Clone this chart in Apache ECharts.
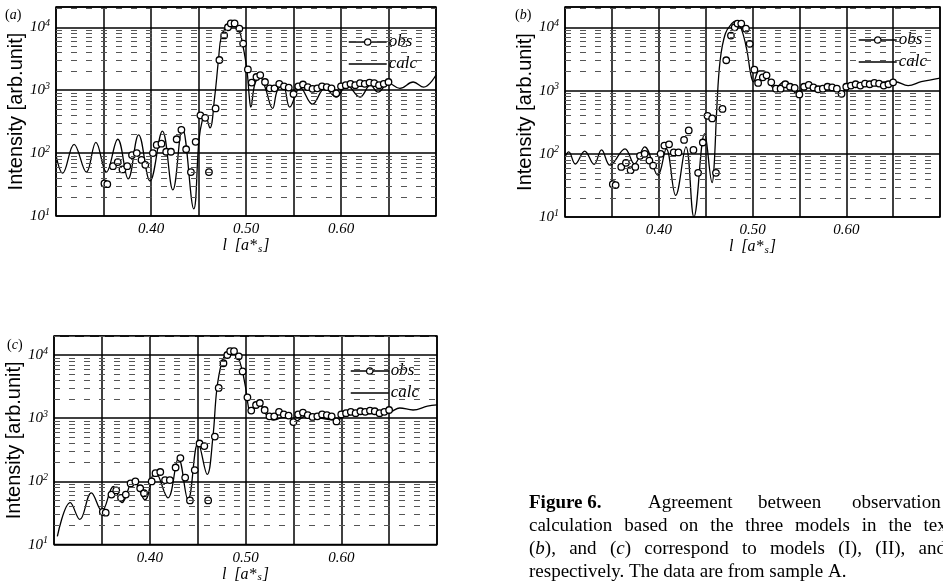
<!DOCTYPE html>
<html>
<head>
<meta charset="utf-8">
<script src="https://cdn.jsdelivr.net/npm/echarts@6/dist/echarts.min.js"></script>
<style>
html,body{margin:0;padding:0;background:#fff;}
#chart{width:943px;height:584px;}
</style>
</head>
<body>
<div id="chart"></div>
<script>
// ---------------- data ----------------
// observed intensities (same data set in all three panels)
const obsL = [0.351,0.354,0.360,0.365,0.370,0.375,0.380,0.385,0.390,0.394,0.402,0.406,0.411,0.416,0.421,0.427,0.432,0.437,0.442,0.447,0.452,0.457,0.461,0.468,0.472,0.477,0.481,0.484,0.488,0.493,0.497,0.502,0.506,0.511,0.515,0.520,0.525,0.530,0.535,0.540,0.545,0.550,0.555,0.560,0.565,0.570,0.575,0.580,0.585,0.590,0.595,0.600,0.605,0.610,0.615,0.620,0.625,0.630,0.635,0.640,0.645,0.650];
const obsI = [33,32,62,72,55,62,93,100,78,65,100,135,141,105,105,166,234,115,50,151,398,363,50,513,3020,7410,10000,11500,11500,9550,5500,2140,1320,1620,1740,1350,1070,1070,1260,1150,1100,870,1150,1230,1120,1050,1070,1150,1120,1070,890,1150,1200,1260,1200,1290,1260,1320,1290,1200,1260,1350];

// calculated curves, model (I), (II), (III)
const calcAL = [0.300,0.307,0.319,0.332,0.342,0.353,0.365,0.376,0.387,0.399,0.412,0.423,0.433,0.445,0.4505,0.454,0.457,0.462,0.467,0.471,0.474,0.480,0.485,0.490,0.494,0.497,0.501,0.5035,0.505,0.5095,0.515,0.520,0.528,0.533,0.539,0.546,0.557,0.570,0.583,0.595,0.606,0.620,0.631,0.639,0.650,0.662,0.676,0.687,0.700];
const calcAI = [93,48,138,50,148,50,166,39,195,36,224,26,251,13,162,331,398,251,776,3020,7080,10700,12000,10700,7940,4900,2090,776,537,1290,1620,1120,513,1000,1200,537,1100,600,1070,776,1200,776,1200,933,1290,1070,1350,1120,1740];

const calcBL = [0.300,0.304,0.311,0.321,0.331,0.339,0.348,0.364,0.374,0.385,0.399,0.408,0.418,0.429,0.4375,0.449,0.457,0.459,0.462,0.4655,0.471,0.478,0.4825,0.488,0.494,0.498,0.501,0.507,0.512,0.5235,0.534,0.548,0.557,0.571,0.581,0.595,0.606,0.620,0.631,0.652,0.666,0.680,0.700];
const calcBI = [89,107,69,110,68,115,66,120,69,129,46,120,22,129,10,209,35,62,550,3020,7940,11500,12600,9550,4370,1860,1380,2040,2040,1070,1380,891,1200,1000,1200,955,1290,1200,1320,1380,1200,1380,1580];

const calcCL = [0.3035,0.317,0.327,0.339,0.350,0.362,0.371,0.383,0.395,0.4055,0.419,0.430,0.440,0.4505,0.460,0.466,0.470,0.475,0.480,0.485,0.491,0.496,0.5005,0.503,0.505,0.510,0.515,0.522,0.529,0.543,0.552,0.564,0.578,0.595,0.606,0.627,0.651,0.661,0.675,0.690,0.700];
const calcCI = [13.5,46,25,66,34,83,46,107,51,145,55,234,51,407,129,513,2820,7410,10700,11500,10000,6170,2820,1510,1200,1450,1620,1120,933,1070,891,1100,1000,933,1120,1175,1260,1450,1350,1550,1620];

// axes
const xTickLabels = ['0.40','0.50','0.60'];
const minorY = [20,30,40,50,60,70,80,90,200,300,400,500,600,700,800,900,2000,3000,4000,5000,6000,7000,8000,9000,20000];
const panelNames = ['(a)','(b)','(c)'];

// ---------------- chart ----------------
const SERIF = '"Liberation Serif","Times New Roman",serif';
const SANS = '"Liberation Sans",Arial,sans-serif';
const pairs = (L, I) => L.map((l, i) => [l, I[i]]);
const calcs = [pairs(calcAL, calcAI), pairs(calcBL, calcBI), pairs(calcCL, calcCI)];
const obs = pairs(obsL, obsI);

const grids = [
  {left: 56, top: 7, width: 380, height: 209},
  {left: 565, top: 7, width: 382, height: 210},
  {left: 54, top: 336, width: 383, height: 209}
];
const yMax = [21000, 21000, 20000];

const xAxes = grids.map((g, i) => ({
  type: 'value', gridIndex: i, min: 0.30, max: 0.70, interval: 0.05,
  axisLine: {show: false}, axisTick: {show: false},
  splitLine: {show: true, lineStyle: {color: '#000', width: 1.5}},
  axisLabel: {
    margin: 6, color: '#000', fontFamily: SERIF, fontStyle: 'italic', fontSize: 15,
    formatter: v => { const s = v.toFixed(2); return xTickLabels.includes(s) ? s : ''; }
  },
  name: '{i|l  [a*}{s|s}{i|]}', nameLocation: 'middle', nameGap: 21,
  nameTextStyle: {
    rich: {
      i: {fontFamily: SERIF, fontStyle: 'italic', fontSize: 16, color: '#000'},
      s: {fontFamily: SERIF, fontStyle: 'italic', fontSize: 11, color: '#000', verticalAlign: 'bottom', padding: [6, 1, 0, 1]}
    }
  }
}));

const yAxes = grids.map((g, i) => ({
  type: 'log', logBase: 10, gridIndex: i, min: 10, max: yMax[i],
  axisLine: {show: false}, axisTick: {show: false},
  splitLine: {show: true, lineStyle: {color: '#000', width: 1.5}},
  axisLabel: {
    margin: 6, color: '#000',
    formatter: v => {
      const e = Math.log10(v); const r = Math.round(e);
      return Math.abs(e - r) < 1e-6 ? '{b|10}{s|' + r + '}' : '';
    },
    rich: {
      b: {fontFamily: SERIF, fontStyle: 'italic', fontSize: 15, color: '#000'},
      s: {fontFamily: SERIF, fontStyle: 'italic', fontSize: 10, color: '#000', verticalAlign: 'top', padding: [0, 0, 8, 0]}
    }
  },
  name: 'Intensity [arb.unit]', nameLocation: 'middle', nameGap: 29,
  nameTextStyle: {fontFamily: SANS, fontSize: 20, color: '#000'}
}));

const series = [];
grids.forEach((g, i) => {
  series.push({
    name: 'calc', type: 'line', xAxisIndex: i, yAxisIndex: i, data: calcs[i],
    symbol: 'none', smooth: 0.4, lineStyle: {color: '#000', width: 1.3},
    itemStyle: {color: '#000'},
    z: 2, animation: false,
    markLine: {
      silent: true, symbol: 'none', label: {show: false}, animation: false,
      lineStyle: {type: [6, 9], color: '#555', width: 1},
      data: minorY.map(v => ({yAxis: v}))
    }
  });
  series.push({
    name: 'obs', type: 'line', xAxisIndex: i, yAxisIndex: i, data: obs,
    lineStyle: {width: 0}, symbol: 'circle', symbolSize: 6.5, showAllSymbol: true,
    itemStyle: {color: '#fff', borderColor: '#000', borderWidth: 1.3},
    z: 3, animation: false
  });
});

const legendPos = [{left: 343, top: 28}, {left: 853, top: 26}, {left: 345, top: 357}];
const legends = legendPos.map(p => ({
  left: p.left, top: p.top, orient: 'vertical', itemWidth: 38, itemHeight: 8, itemGap: 4,
  selectedMode: false,
  textStyle: {fontFamily: SERIF, fontStyle: 'italic', fontSize: 17, lineHeight: 18, color: '#000', padding: [0, 0, 0, -3]},
  data: [
    {name: 'obs', lineStyle: {width: 1.5, color: '#000', opacity: 1},
     itemStyle: {color: '#fff', borderColor: '#000', borderWidth: 1.2}},
    {name: 'calc', lineStyle: {width: 1.5, color: '#000', opacity: 1},
     itemStyle: {color: 'rgba(0,0,0,0)', borderColor: 'rgba(0,0,0,0)', borderWidth: 0, opacity: 0}}
  ]
}));

// ---------------- caption ----------------
const capFont = 19;
const ctx = document.createElement('canvas').getContext('2d');
function measure(t, style) { ctx.font = style + ' ' + capFont + 'px ' + SERIF; return ctx.measureText(t).width; }
const graphic = [];
function addText(t, x, y, weight, rich) {
  const st = {text: t, x: x, y: y, fill: '#000', font: (weight || '') + ' ' + capFont + 'px ' + SERIF,
    align: 'left', verticalAlign: 'middle', textAlign: 'left', textVerticalAlign: 'middle'};
  if (rich) st.rich = rich;
  graphic.push({type: 'text', silent: true, style: st});
}
const itRich = {i: {fontStyle: 'italic', fontFamily: SERIF, fontSize: capFont}};
function justify(words, y, x0, x1) {
  const widths = words.map(w => measure(w.plain, ''));
  const sum = widths.reduce((a, b) => a + b, 0);
  const gap = (x1 - x0 - sum) / (words.length - 1);
  let x = x0;
  words.forEach((w, k) => { addText(w.t, x, y, '', w.rich ? itRich : null); x += widths[k] + gap; });
}
const capY = [503, 526, 549, 572];
const capX = 529;
addText('Figure 6.', capX, capY[0], 'bold');
addText('Agreement', 648, capY[0]);
addText('between', 758, capY[0]);
addText('observation', 852, capY[0]);
justify('calculation based on the three models in the text'.split(' ').map(w => ({t: w, plain: w})), capY[1], capX, 952);
justify([
  {t: '({i|b}),', plain: '(b),', rich: true}, {t: 'and', plain: 'and'},
  {t: '({i|c})', plain: '(c)', rich: true}, {t: 'correspond', plain: 'correspond'}, {t: 'to', plain: 'to'},
  {t: 'models', plain: 'models'}, {t: '(I),', plain: '(I),'}, {t: '(II),', plain: '(II),'}, {t: 'and', plain: 'and'}
], capY[2], capX, 946);
addText('respectively. The data are from sample A.', capX, capY[3]);

// panel letters
const panelPos = [[5, 15], [515, 15], [7, 345]];
panelNames.forEach((n, i) => {
  graphic.push({type: 'text', silent: true, style: {
    text: '(' + '{i|' + n[1] + '}' + ')', x: panelPos[i][0], y: panelPos[i][1],
    font: '14px ' + SERIF, fill: '#000', verticalAlign: 'middle', textVerticalAlign: 'middle',
    rich: {i: {fontStyle: 'italic', fontFamily: SERIF, fontSize: 14}}
  }});
});

const chart = echarts.init(document.getElementById('chart'), null, {renderer: 'canvas'});
chart.setOption({
  backgroundColor: '#fff',
  animation: false,
  grid: grids.map(g => Object.assign({show: true, borderColor: '#000', borderWidth: 1.5, backgroundColor: 'transparent'}, g)),
  xAxis: xAxes,
  yAxis: yAxes,
  legend: legends,
  series: series,
  graphic: graphic
});
</script>
</body>
</html>
